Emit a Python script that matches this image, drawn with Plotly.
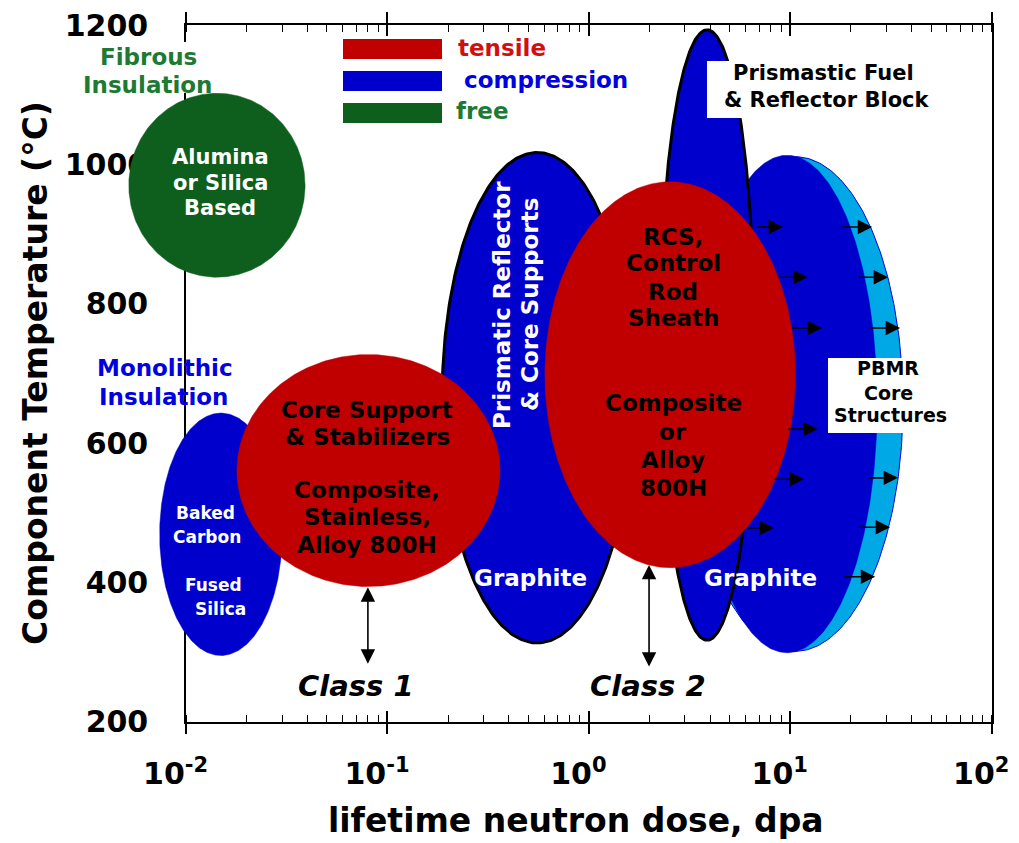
import numpy as np
import plotly.graph_objects as go

# ---------------- data ----------------
region_names = ["Fibrous insulation", "Monolithic insulation", "Prismatic reflector & core supports",
                "Core support & stabilizers", "PBMR core structures (growth)", "PBMR core structures",
                "Prismatic fuel & reflector block", "RCS, control rod sheath"]
stress_state = ["free", "compression", "compression", "tensile", "compression", "compression",
                "compression", "tensile"]
dose_lo = [0.0052, 0.0074, 0.187, 0.0179, 3.07, 3.44, 2.26, 0.605]      # dpa
dose_hi = [0.039, 0.030, 1.64, 0.362, 36.3, 27.0, 6.61, 10.6]           # dpa
temp_lo = [838, 295, 313, 394, 301, 299, 317, 421]                       # degC
temp_hi = [1102, 643, 1017, 727, 1011, 1013, 1193, 975]                  # degC

growth_temp_inner = [910, 838, 765, 620, 548, 478]
growth_from_inner = [6.7, 8.6, 10.0, 9.6, 8.2, 6.0]
growth_to_inner = [9.2, 12.2, 14.4, 13.7, 11.7, 8.3]
growth_temp_outer = [910, 838, 765, 550, 479, 408]
growth_from_outer = [17.7, 21.5, 24.3, 24.1, 21.7, 18.3]
growth_to_outer = [25.5, 30.6, 35.1, 34.3, 31.3, 26.4]

class_names = ["Class 1", "Class 2"]
class_dose = [0.080, 1.99]
class_temp_top = [393, 425]
class_temp_bottom = [281, 277]

x_tick_decades = [-2, -1, 0, 1, 2]
x_tick_labels = ["10<sup>-2</sup>", "10<sup>-1</sup>", "10<sup>0</sup>", "10<sup>1</sup>", "10<sup>2</sup>"]
y_ticks = [200, 400, 600, 800, 1000, 1200]

# ---------------- styling ----------------
W, H = 1019, 843
OFF = 8  # the page body margin offsets the figure; layout pixel positions are given in page pixels
FL, FR, FT, FB = 186 - OFF, 991.7 - OFF, 25 - OFF, 721.7 - OFF
FONT = "DejaVu Sans"
RED, BLUE, LBLUE, GREEN = "#C00000", "#0000CD", "#00A9E6", "#0E5E1E"

fills = [GREEN, BLUE, BLUE, RED, LBLUE, BLUE, BLUE, RED]
outline = [None, None, "black", None, BLUE, None, "black", None]
outline_w = [0, 0, 3, 0, 1, 0, 3, 0]
draw_order = [0, 1, 2, 3, 4, 5, 6, 7]

# overlay axes spanning the whole page with identical scale, so shapes are not clipped at the frame
sx = 4.0 / (FR - FL)
sy = 1000.0 / (FB - FT)
x2_range = [-2 - FL * sx, 2 + (W - FR) * sx]
y2_range = [200 - (H - FB) * sy, 1200 + FT * sy]

fig = go.Figure()
# empty traces so the framed axes render
fig.add_trace(go.Scatter(x=[], y=[], xaxis="x", yaxis="y", showlegend=False))
fig.add_trace(go.Scatter(x=[], y=[], xaxis="x3", yaxis="y", showlegend=False))

t = np.linspace(0, 2 * np.pi, 361)
for i in draw_order:
    lx0, lx1 = np.log10(dose_lo[i]), np.log10(dose_hi[i])
    cx, rx = (lx0 + lx1) / 2, (lx1 - lx0) / 2
    cy, ry = (temp_lo[i] + temp_hi[i]) / 2, (temp_hi[i] - temp_lo[i]) / 2
    xs = 10 ** (cx + rx * np.cos(t))
    ys = cy + ry * np.sin(t)
    line = dict(color=outline[i] if outline[i] else fills[i], width=outline_w[i] if outline[i] else 0.5)
    fig.add_trace(go.Scatter(x=xs, y=ys, mode="lines", fill="toself", fillcolor=fills[i],
                             line=line, name=region_names[i], hoverinfo="name",
                             xaxis="x2", yaxis="y2", showlegend=False))

ann = []
def arrow(x_head, y_head, x_tail, y_tail, both=False):
    ann.append(dict(x=np.log10(x_head), y=y_head, ax=np.log10(x_tail), ay=y_tail,
                    xref="x2", yref="y2", axref="x2", ayref="y2", text="", showarrow=True,
                    arrowhead=2, arrowsize=1.8, arrowwidth=1.6,
                    arrowcolor="black", arrowside="end+start" if both else "end",
                    standoff=0, startstandoff=0))

for T, a, b in zip(growth_temp_inner, growth_from_inner, growth_to_inner):
    arrow(b, T, a, T)
for T, a, b in zip(growth_temp_outer, growth_from_outer, growth_to_outer):
    arrow(b, T, a, T)
for d, tt, tb in zip(class_dose, class_temp_top, class_temp_bottom):
    arrow(d, tt, d, tb, both=True)

def px_ann(text, x, y, size, color, xanchor="center", angle=0, italic=False):
    ann.append(dict(text=text, x=(x - OFF) / W, y=1 - (y - OFF) / H, xref="paper", yref="paper",
                    showarrow=False, xanchor=xanchor, yanchor="middle", textangle=angle,
                    font=dict(family=FONT, size=size, color=color, weight="bold",
                              style="italic" if italic else "normal")))

def px_rect(x0, y0, x1, y1, col):
    return dict(type="rect", xref="paper", yref="paper", x0=(x0 - OFF) / W, x1=(x1 - OFF) / W,
                y0=1 - (y1 - OFF) / H, y1=1 - (y0 - OFF) / H, fillcolor=col,
                line=dict(width=0), layer="above")

shapes = []
# white label boxes
for x0, y0, x1, y1 in [(75, 42, 220, 93), (707, 61, 951, 118), (828, 358, 953, 433)]:
    shapes.append(px_rect(x0, y0, x1, y1, "white"))
# legend keys
for y0, col in [(39, RED), (71, BLUE), (103, GREEN)]:
    shapes.append(px_rect(343, y0, 442, y0 + 20, col))

GTXT, BTXT = "#1E7A32", "#0000E0"
px_ann("Fibrous", 148, 57, 23, GTXT)
px_ann("Insulation", 147, 85, 23, GTXT)
px_ann("tensile", 456, 48, 23, "#D01010", xanchor="left")
px_ann("compression", 462, 80, 23, BTXT, xanchor="left")
px_ann("free", 454, 111, 23, GTXT, xanchor="left")
px_ann("Alumina", 220, 157, 21, "white")
px_ann("or Silica", 220, 183, 21, "white")
px_ann("Based", 220, 208, 21, "white")
px_ann("Monolithic", 165, 368, 23, BTXT)
px_ann("Insulation", 163, 397, 23, BTXT)
px_ann("Baked", 205, 513, 17, "white")
px_ann("Carbon", 207, 537, 17, "white")
px_ann("Fused", 213, 585, 17, "white")
px_ann("Silica", 220, 609, 17, "white")
for txt, y in [("Core Support", 410), ("& Stabilizers", 437), ("Composite,", 490),
               ("Stainless,", 517), ("Alloy 800H", 545)]:
    px_ann(txt, 367, y, 23, "black")
px_ann("Prismatic Reflector", 502, 305, 23, "white", angle=-90)
px_ann("& Core Supports", 530, 305, 23, "white", angle=-90)
px_ann("Graphite", 530, 578, 23, "white")
px_ann("Graphite", 760, 578, 23, "white")
for txt, y in [("RCS,", 237), ("Control", 263), ("Rod", 292), ("Sheath", 318),
               ("Composite", 403), ("or", 432), ("Alloy", 460), ("800H", 488)]:
    px_ann(txt, 673, y, 23, "black")
px_ann("Prismastic Fuel", 823, 73, 21, "black")
px_ann("& Reflector Block", 827, 100, 21, "black")
px_ann("PBMR", 888, 368, 19, "black")
px_ann("Core", 888, 393, 19, "black")
px_ann("Structures", 890, 415, 19, "black")
px_ann(class_names[0], 356, 686, 29, "black", italic=True)
px_ann(class_names[1], 648, 686, 29, "black", italic=True)
# axis titles
px_ann("Component Temperature (°C)", 35, 373, 33, "black", angle=-90)
px_ann("lifetime neutron dose, dpa", 576, 820, 33, "black")

tickfont = dict(family=FONT, size=30, color="black", weight="bold")
NB = "\u00a0\u00a0"  # trailing spaces nudge the power labels left, as in the reference
fig.update_layout(
    width=W, height=H, margin=dict(l=0, r=0, t=0, b=0, pad=0),
    paper_bgcolor="white", plot_bgcolor="rgba(0,0,0,0)", showlegend=False,
    xaxis=dict(type="log", range=[-2.0003, 2.0003], domain=[FL / W, FR / W], anchor="y",
               automargin=False, ticklabeloverflow="allow",
               tickvals=[10.0 ** k for k in x_tick_decades],
               ticktext=[lab + NB for lab in x_tick_labels],
               showline=True, linecolor="black", linewidth=1.5, mirror="ticks",
               ticks="outside", ticklen=11, tickwidth=1.5, tickcolor="black",
               showgrid=False, zeroline=False, tickfont=tickfont, ticklabelstandoff=14,
               minor=dict(ticks="inside", ticklen=7, tickwidth=1.2, tickcolor="black",
                          dtick="D1", showgrid=False)),
    xaxis3=dict(type="log", range=[-2.0003, 2.0003], overlaying="x", anchor="y", automargin=False,
                tickvals=[10.0 ** k for k in x_tick_decades], ticks="inside", ticklen=11,
                tickwidth=1.5, tickcolor="black", mirror="ticks", showline=False,
                showticklabels=False, showgrid=False, zeroline=False),
    yaxis=dict(range=[200, 1200], domain=[1 - FB / H, 1 - FT / H], anchor="x", automargin=False,
               ticklabeloverflow="allow",
               tickvals=y_ticks, showline=True, linecolor="black", linewidth=1.5, mirror=True,
               ticks="", showgrid=False, zeroline=False, tickfont=tickfont, ticklabelstandoff=30),
    xaxis2=dict(type="log", range=x2_range, domain=[0, 1], anchor="y2", visible=False,
                automargin=False, showgrid=False, zeroline=False),
    yaxis2=dict(range=y2_range, domain=[0, 1], anchor="x2", visible=False, automargin=False,
                showgrid=False, zeroline=False),
    annotations=ann, shapes=shapes,
)

fig.write_html("out.html")
